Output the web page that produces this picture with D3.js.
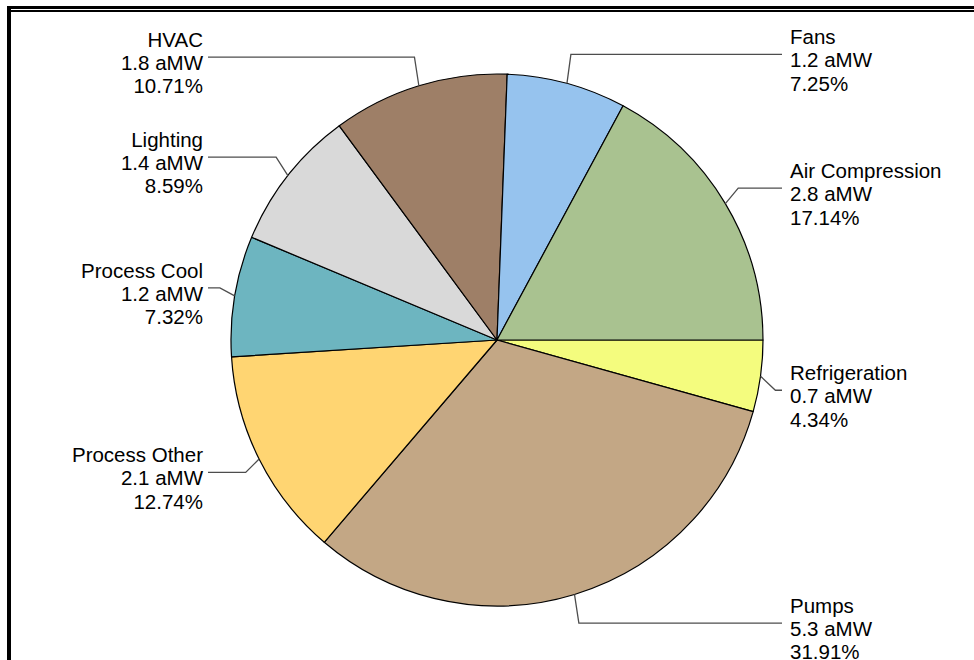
<!DOCTYPE html>
<html>
<head>
<meta charset="utf-8">
<script src="https://cdn.jsdelivr.net/npm/d3@7/dist/d3.min.js"></script>
<style>
  html, body { margin: 0; padding: 0; background: #fff; }
  svg { display: block; }
  text { font-family: "Liberation Sans", Arial, sans-serif; font-size: 20.5px; fill: #000; }
</style>
</head>
<body>
<svg id="chart" width="974" height="660"></svg>
<script>
// ---- data ----
const categories = ["Refrigeration", "Pumps", "Process Other", "Process Cool", "Lighting", "HVAC", "Fans", "Air Compression"];
const aMW = [0.7, 5.3, 2.1, 1.2, 1.4, 1.8, 1.2, 2.8];
const shares = [4.34, 31.91, 12.74, 7.32, 8.59, 10.71, 7.25, 17.14];
const colors = ["#F4FC7E", "#C3A785", "#FFD572", "#6DB5C0", "#D9D9D9", "#9E7F67", "#96C3EE", "#A9C290"];

// ---- layout ----
const W = 974, H = 660;
const cx = 497, cy = 340, r = 266;
const elbowR = 281, leaderR = 296;
const labelNudge = [10, 0, 0, -3, 0, 0, 0, 0];
const lineH = 23.3;

const svg = d3.select("#chart");

// frame
svg.append("rect").attr("x", 7).attr("y", 6).attr("width", W - 7).attr("height", 3).attr("fill", "#000");
svg.append("rect").attr("x", 11).attr("y", 10).attr("width", W - 11).attr("height", 2).attr("fill", "#000");
svg.append("rect").attr("x", 7).attr("y", 6).attr("width", 4).attr("height", H - 6).attr("fill", "#000");

const rows = categories.map((c, i) => ({ name: c, value: aMW[i], share: shares[i], color: colors[i], nudge: labelNudge[i] }));

const pie = d3.pie().sort(null).value(d => d.share)
  .startAngle(Math.PI / 2).endAngle(Math.PI / 2 + 2 * Math.PI);
const arcs = pie(rows);
const arc = d3.arc().innerRadius(0).outerRadius(r);

const g = svg.append("g").attr("transform", `translate(${cx},${cy})`);
g.selectAll("path.slice").data(arcs).join("path")
  .attr("class", "slice")
  .attr("d", arc)
  .attr("fill", d => d.data.color)
  .attr("stroke", "#000")
  .attr("stroke-width", 1.2)
  .attr("stroke-linejoin", "round");

// labels and leaders
arcs.forEach(d => {
  const a = (d.startAngle + d.endAngle) / 2; // d3: 0 at 12 o'clock, clockwise
  const sx = Math.sin(a), sy = -Math.cos(a);
  const right = sx >= 0;
  const p0 = [sx * r, sy * r];
  const ly = sy * leaderR + d.data.nudge;
  const p1 = [sx * elbowR, ly];
  const endX = right ? 790 - 8 - cx : 203 + 5 - cx;
  g.append("polyline")
    .attr("points", [p0, p1, [endX, ly]].map(p => p.join(",")).join(" "))
    .attr("fill", "none")
    .attr("stroke", "#4d4d4d")
    .attr("stroke-width", 1.3);
  const tx = right ? 790 - cx : 203 - cx;
  const t = g.append("text")
    .attr("text-anchor", right ? "start" : "end");
  const lines = [d.data.name, d3.format(".1f")(d.data.value) + " aMW", d3.format(".2f")(d.data.share) + "%"];
  lines.forEach((s, k) => {
    t.append("tspan").attr("x", tx).attr("y", ly - 10.3 + k * lineH).text(s);
  });
});
</script>
</body>
</html>
